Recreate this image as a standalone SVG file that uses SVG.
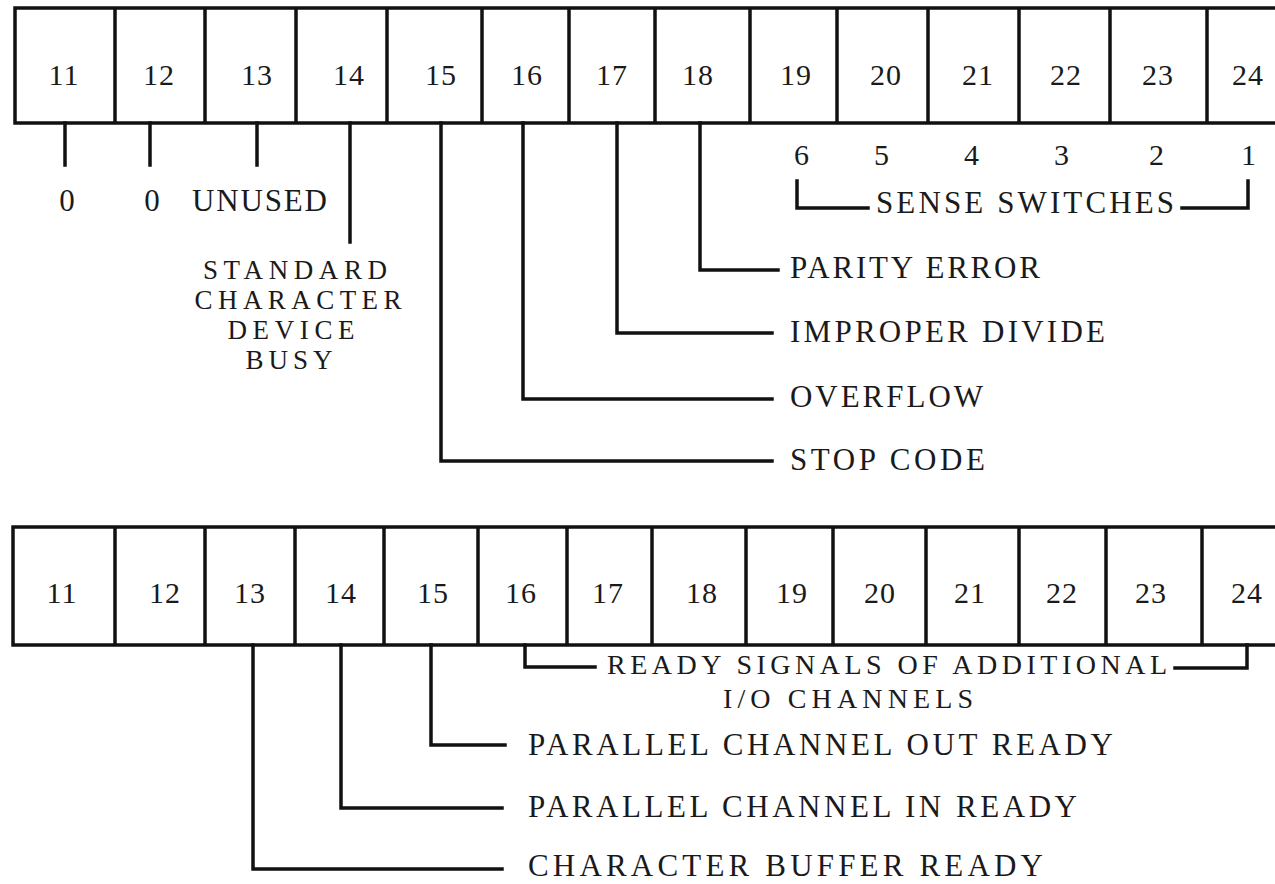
<svg xmlns="http://www.w3.org/2000/svg" width="1275" height="884" viewBox="0 0 1275 884">
<style>
.reg{fill:#fff;stroke:#111;stroke-width:3.5}
.div{stroke:#111;stroke-width:3.5}
.ln{fill:none;stroke:#111;stroke-width:3.5;stroke-linejoin:miter;stroke-linecap:square}
.num{font-family:"Liberation Serif","DejaVu Serif",serif;font-size:30px;fill:#1a1a1a;text-anchor:middle;letter-spacing:1px}
.lbl{font-family:"Liberation Serif","DejaVu Serif",serif;font-size:31px;fill:#1a1a1a}
.lbl2{font-family:"Liberation Serif","DejaVu Serif",serif;font-size:28px;fill:#1a1a1a}
.stk{font-family:"Liberation Serif","DejaVu Serif",serif;font-size:27px;fill:#1a1a1a;text-anchor:middle}
.mid{text-anchor:middle}
</style>
<rect width="1275" height="884" fill="#fff"/>

<g id="register-top">
<rect class="reg" x="15" y="8" width="1290" height="115"/>
<g class="div">
<line x1="115" y1="8" x2="115" y2="123"/>
<line x1="205" y1="8" x2="205" y2="123"/>
<line x1="296" y1="8" x2="296" y2="123"/>
<line x1="387" y1="8" x2="387" y2="123"/>
<line x1="482" y1="8" x2="482" y2="123"/>
<line x1="569" y1="8" x2="569" y2="123"/>
<line x1="655" y1="8" x2="655" y2="123"/>
<line x1="750" y1="8" x2="750" y2="123"/>
<line x1="837" y1="8" x2="837" y2="123"/>
<line x1="928" y1="8" x2="928" y2="123"/>
<line x1="1019" y1="8" x2="1019" y2="123"/>
<line x1="1110" y1="8" x2="1110" y2="123"/>
<line x1="1207" y1="8" x2="1207" y2="123"/>
</g>
<g class="num">
<text x="64" y="85">11</text>
<text x="159" y="85">12</text>
<text x="257" y="85">13</text>
<text x="349" y="85">14</text>
<text x="441" y="85">15</text>
<text x="527" y="85">16</text>
<text x="612" y="85">17</text>
<text x="698" y="85">18</text>
<text x="796" y="85">19</text>
<text x="886" y="85">20</text>
<text x="978" y="85">21</text>
<text x="1066" y="85">22</text>
<text x="1158" y="85">23</text>
<text x="1248" y="85">24</text>
</g>
</g>

<g id="register-bottom">
<rect class="reg" x="13" y="527" width="1292" height="118"/>
<g class="div">
<line x1="115" y1="527" x2="115" y2="645"/>
<line x1="205" y1="527" x2="205" y2="645"/>
<line x1="295" y1="527" x2="295" y2="645"/>
<line x1="384" y1="527" x2="384" y2="645"/>
<line x1="478" y1="527" x2="478" y2="645"/>
<line x1="567" y1="527" x2="567" y2="645"/>
<line x1="652" y1="527" x2="652" y2="645"/>
<line x1="746" y1="527" x2="746" y2="645"/>
<line x1="833" y1="527" x2="833" y2="645"/>
<line x1="926" y1="527" x2="926" y2="645"/>
<line x1="1019" y1="527" x2="1019" y2="645"/>
<line x1="1106" y1="527" x2="1106" y2="645"/>
<line x1="1202" y1="527" x2="1202" y2="645"/>
</g>
<g class="num">
<text x="62" y="603">11</text>
<text x="165" y="603">12</text>
<text x="250" y="603">13</text>
<text x="341" y="603">14</text>
<text x="433" y="603">15</text>
<text x="521" y="603">16</text>
<text x="608" y="603">17</text>
<text x="702" y="603">18</text>
<text x="792" y="603">19</text>
<text x="880" y="603">20</text>
<text x="970" y="603">21</text>
<text x="1062" y="603">22</text>
<text x="1151" y="603">23</text>
<text x="1247" y="603">24</text>
</g>
</g>

<g id="connectors">
<path class="ln" d="M65 123 V165"/>
<path class="ln" d="M150 123 V165"/>
<path class="ln" d="M257 123 V165"/>
<path class="ln" d="M350 123 V242"/>
<path class="ln" d="M441 123 V461 H772"/>
<path class="ln" d="M523 123 V399 H772"/>
<path class="ln" d="M617 123 V333 H772"/>
<path class="ln" d="M700 123 V270 H778"/>
<path class="ln" d="M797 181 V208 H868"/>
<path class="ln" d="M1182 208 H1248 V181"/>
<path class="ln" d="M253 645 V869 H502"/>
<path class="ln" d="M341 645 V808 H502"/>
<path class="ln" d="M431 645 V745 H505"/>
<path class="ln" d="M525 645 V667 H595"/>
<path class="ln" d="M1175 668 H1247 V645"/>
</g>

<g id="labels-top">
<text class="lbl mid" x="67" y="211">0</text>
<text class="lbl mid" x="152" y="211">0</text>
<text class="lbl" x="192" y="211" textLength="135" lengthAdjust="spacing">UNUSED</text>
<g id="label-14">
<text class="stk" x="295" y="279" textLength="184" lengthAdjust="spacing">STANDARD</text>
<text class="stk" x="298" y="309" textLength="207" lengthAdjust="spacing">CHARACTER</text>
<text class="stk" x="291" y="339" textLength="127" lengthAdjust="spacing">DEVICE</text>
<text class="stk" x="289" y="369" textLength="87" lengthAdjust="spacing">BUSY</text>
</g>
<g class="num">
<text x="802" y="165">6</text>
<text x="882" y="165">5</text>
<text x="972" y="165">4</text>
<text x="1062" y="165">3</text>
<text x="1157" y="165">2</text>
<text x="1249" y="165">1</text>
</g>
<text class="lbl" x="876" y="213" textLength="298" lengthAdjust="spacing">SENSE SWITCHES</text>
<text class="lbl" x="790" y="278" textLength="250" lengthAdjust="spacing">PARITY ERROR</text>
<text class="lbl" x="790" y="342" textLength="315" lengthAdjust="spacing">IMPROPER DIVIDE</text>
<text class="lbl" x="790" y="407" textLength="193" lengthAdjust="spacing">OVERFLOW</text>
<text class="lbl" x="790" y="470" textLength="195" lengthAdjust="spacing">STOP CODE</text>
</g>

<g id="labels-bottom">
<text class="lbl2" x="607" y="674" textLength="560" lengthAdjust="spacing">READY SIGNALS OF ADDITIONAL</text>
<text class="lbl2" x="723" y="708" textLength="250" lengthAdjust="spacing">I/O CHANNELS</text>
<text class="lbl" x="528" y="755" textLength="585" lengthAdjust="spacing">PARALLEL CHANNEL OUT READY</text>
<text class="lbl" x="528" y="817" textLength="549" lengthAdjust="spacing">PARALLEL CHANNEL IN READY</text>
<text class="lbl" x="528" y="876" textLength="515" lengthAdjust="spacing">CHARACTER BUFFER READY</text>
</g>
</svg>
